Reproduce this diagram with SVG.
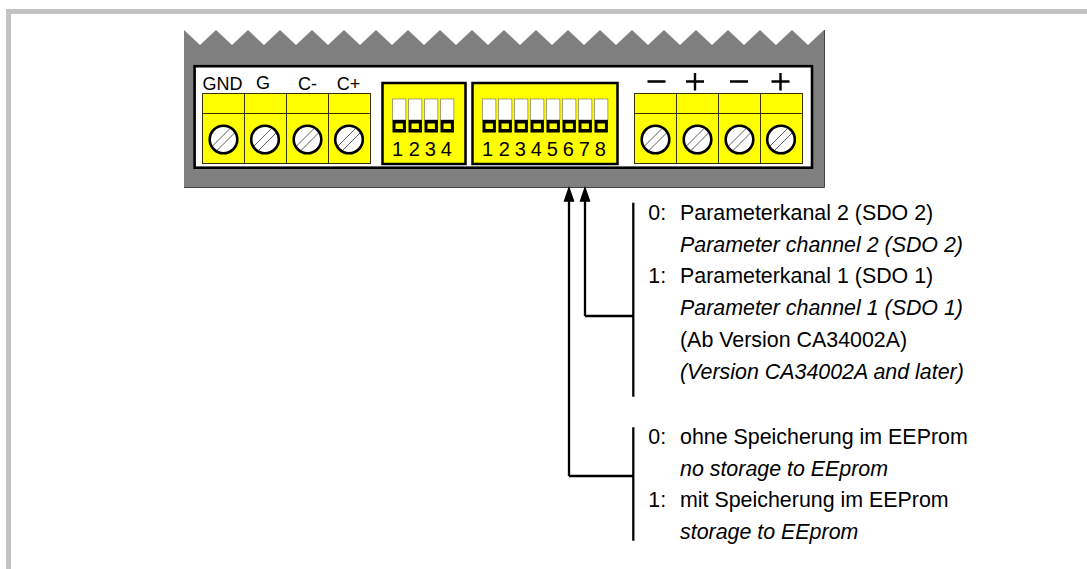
<svg xmlns="http://www.w3.org/2000/svg" width="1087" height="569" viewBox="0 0 1087 569">
<defs>
<style>
text{font-family:"Liberation Sans",Arial,Helvetica,sans-serif;fill:#000}
.lab{font-size:21.4px}
.it{font-size:21.4px;font-style:italic}
.num{font-size:20px}
.term{font-size:18px;text-anchor:middle}
.cell{fill:#ffff00;stroke:#333300;stroke-width:1}
.scr{fill:#fff;stroke:#000;stroke-width:2.6}
.sl{stroke:#333;stroke-width:.8;fill:none}
.w{stroke:#000;stroke-width:2.3;fill:none}
.sw{fill:#fff;stroke:#666;stroke-width:.6}
</style>
<g id="screw"><circle class="scr" r="13.800"/><path class="sl" d="M-11 6.500L6.500 -11M-6.500 11L11 -6.500"/></g>
<g id="sw"><rect class="sw" x="0" y="0" width="13.400" height="21"/><rect x="0" y="21" width="13.400" height="12.500" fill="#000"/><rect x="3" y="24.500" width="7.400" height="5.500" fill="#ffff00"/></g>
</defs>
<g id="frame"><path d="M6 569V9H1087V14H11V569Z" fill="#c3c3c3"/></g>
<g id="housing"><path d="M184 30L200 45L216 30L232 45L248 30L264 45L280 30L296 45L312 30L328 45L344 30L360 45L376 30L392 45L408 30L424 45L440 30L456 45L472 30L488 45L504 30L520 45L536 30L552 45L568 30L584 45L600 30L616 45L632 30L648 45L664 30L680 45L696 30L712 45L728 30L744 45L760 30L776 45L792 30L808 45L824 30V187.500H184Z" fill="#808080"/><path d="M184 187.500H824.500V30" fill="none" stroke="#444" stroke-width="1"/><rect x="194.600" y="66.200" width="617.400" height="101.500" fill="#fff" stroke="#000" stroke-width="2.600"/></g>
<g id="terminal-left">
<rect class="cell" x="202.500" y="93.500" width="42" height="20"/><rect class="cell" x="244.500" y="93.500" width="42" height="20"/><rect class="cell" x="286.500" y="93.500" width="42" height="20"/><rect class="cell" x="328.500" y="93.500" width="42" height="20"/>
<rect class="cell" x="202.500" y="113.500" width="42" height="50"/><rect class="cell" x="244.500" y="113.500" width="42" height="50"/><rect class="cell" x="286.500" y="113.500" width="42" height="50"/><rect class="cell" x="328.500" y="113.500" width="42" height="50"/>
<use href="#screw" x="223.500" y="139.500"/><use href="#screw" x="265" y="139.500"/><use href="#screw" x="307.500" y="139.500"/><use href="#screw" x="349" y="139.500"/>
<text class="term" x="222.500" y="90">GND</text><text class="term" x="263" y="89">G</text><text class="term" x="307.500" y="90">C-</text><text class="term" x="348.500" y="90">C+</text>
</g>
<g id="dip-4">
<rect x="382.500" y="83" width="83" height="81" fill="#ffff00" stroke="#000" stroke-width="2.500"/>
<use href="#sw" x="392.500" y="99"/><use href="#sw" x="408.500" y="99"/><use href="#sw" x="424.500" y="99"/><use href="#sw" x="440.500" y="99"/>
<text class="num" x="392" y="156">1</text><text class="num" x="408.700" y="156">2</text><text class="num" x="424.700" y="156">3</text><text class="num" x="440.700" y="156">4</text>
</g>
<g id="dip-8">
<rect x="472.500" y="83" width="145" height="81" fill="#ffff00" stroke="#000" stroke-width="2.500"/>
<use href="#sw" x="482.500" y="99"/><use href="#sw" x="498.500" y="99"/><use href="#sw" x="514.500" y="99"/><use href="#sw" x="530.500" y="99"/><use href="#sw" x="546.500" y="99"/><use href="#sw" x="562.500" y="99"/><use href="#sw" x="578.500" y="99"/><use href="#sw" x="594.500" y="99"/>
<text class="num" x="482" y="156">1</text><text class="num" x="498.700" y="156">2</text><text class="num" x="514.700" y="156">3</text><text class="num" x="530.700" y="156">4</text><text class="num" x="546.700" y="156">5</text><text class="num" x="562.700" y="156">6</text><text class="num" x="578.700" y="156">7</text><text class="num" x="594.700" y="156">8</text>
</g>
<g id="terminal-right">
<rect class="cell" x="634.500" y="93.500" width="42" height="20"/><rect class="cell" x="676.500" y="93.500" width="42" height="20"/><rect class="cell" x="718.500" y="93.500" width="42" height="20"/><rect class="cell" x="760.500" y="93.500" width="42" height="20"/>
<rect class="cell" x="634.500" y="113.500" width="42" height="50"/><rect class="cell" x="676.500" y="113.500" width="42" height="50"/><rect class="cell" x="718.500" y="113.500" width="42" height="50"/><rect class="cell" x="760.500" y="113.500" width="42" height="50"/>
<use href="#screw" x="655.500" y="139.500"/><use href="#screw" x="697.500" y="139.500"/><use href="#screw" x="739.500" y="139.500"/><use href="#screw" x="781" y="139.500"/>
<path d="M647.500 81.500H665.500M686 81.500H704M695 73V90.500M730 81.500H748M771.500 81.500H789.500M780.500 73V90.500" stroke="#000" stroke-width="2.400" fill="none"/>
</g>
<g id="connectors">
<path class="w" d="M569 476H633.500M569 476V196"/>
<path class="w" d="M585 316H633.500M585 316V196"/>
<path d="M563.500 201.700L569 185.700L574.500 201.700ZM579.500 201.700L585 185.700L590.500 201.700Z" fill="#000"/>
<path class="w" d="M633.300 202.700V396.700"/>
<path class="w" d="M633.300 427.300V540.700"/>
</g>
<g id="note-parameter">
<text class="lab" x="648.300" y="220">0:</text><text class="lab" x="680" y="220">Parameterkanal 2 (SDO 2)</text>
<text class="it" x="680" y="251.500">Parameter channel 2 (SDO 2)</text>
<text class="lab" x="648.300" y="283">1:</text><text class="lab" x="680" y="283">Parameterkanal 1 (SDO 1)</text>
<text class="it" x="680" y="315">Parameter channel 1 (SDO 1)</text>
<text class="lab" x="680" y="347">(Ab Version CA34002A)</text>
<text class="it" x="680" y="379">(Version CA34002A and later)</text>
</g>
<g id="note-eeprom">
<text class="lab" x="648.300" y="444">0:</text><text class="lab" x="680" y="444">ohne Speicherung im EEProm</text>
<text class="it" x="680" y="475.700">no storage to EEprom</text>
<text class="lab" x="648.300" y="507.300">1:</text><text class="lab" x="680" y="507.300">mit Speicherung im EEProm</text>
<text class="it" x="680" y="539.300">storage to EEprom</text>
</g>
</svg>
